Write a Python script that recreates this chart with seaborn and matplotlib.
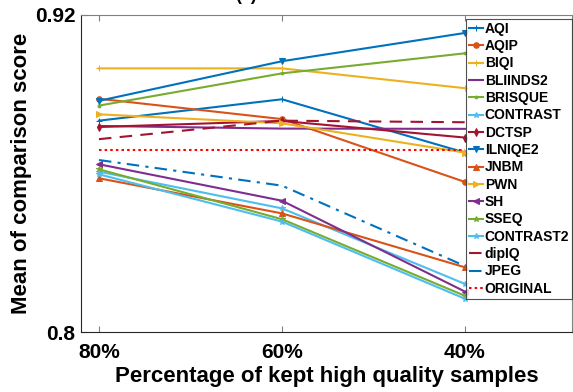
import numpy as np
import pandas as pd
import seaborn as sns
import matplotlib.pyplot as plt

percent = ["80%", "60%", "40%"]
methods = ["AQI", "AQIP", "BIQI", "BLIINDS2", "BRISQUE", "CONTRAST", "DCTSP", "ILNIQE2",
           "JNBM", "PWN", "SH", "SSEQ", "CONTRAST2", "dipIQ", "JPEG", "ORIGINAL"]

aqi = [0.8800, 0.8881, 0.8679]
aqip = [0.8883, 0.8806, 0.8568]
biqi = [0.8998, 0.8998, 0.8923]
bliinds2 = [0.8780, 0.8770, 0.8769]
brisque = [0.8857, 0.8979, 0.9055]
contrast = [0.8607, 0.8468, 0.8182]
dctsp = [0.8776, 0.8799, 0.8736]
ilniqe2 = [0.8875, 0.9025, 0.9132]
jnbm = [0.8582, 0.8449, 0.8245]
pwn = [0.8824, 0.8790, 0.8679]
sh = [0.8635, 0.8497, 0.8153]
sseq = [0.8616, 0.8427, 0.8137]
contrast2 = [0.8597, 0.8418, 0.8126]
dipiq = [0.8730, 0.8800, 0.8794]
jpeg = [0.8651, 0.8554, 0.8250]
original = [0.8690, 0.8690, 0.8690]

values = [aqi, aqip, biqi, bliinds2, brisque, contrast, dctsp, ilniqe2,
          jnbm, pwn, sh, sseq, contrast2, dipiq, jpeg, original]

blue, orange, yellow, purple = "#0072BD", "#D95319", "#EDB120", "#7E2F8E"
green, cyan, darkred = "#77AC30", "#4DBEEE", "#A2142F"
colors = [blue, orange, yellow, purple, green, cyan, darkred, blue,
          orange, yellow, purple, green, cyan, darkred, blue, "#FF0000"]
markers = ["+", "o", "+", "", ".", "*", "d", "v", "^", ">", "<", "*", "*", "", "", ""]
styles = ["-"] * 13 + [(0, (6, 4)), (0, (6, 3, 1.5, 3)), (0, (1.2, 1.5))]

df = pd.DataFrame({
    "pct": percent * len(methods),
    "score": np.concatenate(values),
    "method": np.repeat(methods, len(percent)),
})

plt.rcParams['font.family'] = ['Liberation Sans', 'DejaVu Sans']
plt.rcParams['font.weight'] = 'bold'

fig = plt.figure(figsize=(5.73, 3.92), dpi=100)
ax = fig.add_axes([81 / 573, 1 - 332 / 392, 491 / 573, 317 / 392])

for m, c, mk, ls in zip(methods, colors, markers, styles):
    sub = df[df["method"] == m]
    sns.lineplot(data=sub, x="pct", y="score", ax=ax, color=c, marker=mk if mk else None,
                 markersize=4, markeredgecolor=c, linestyle=ls, linewidth=1.5,
                 label=m, sort=False)

ax.set_xlim(-0.098, 2.585)
ax.set_ylim(0.8, 0.92)
ax.set_yticks([0.8, 0.92])
ax.set_yticklabels(["0.8", "0.92"])
ax.set_xticks([0, 1, 2])
ax.set_xticklabels(percent)
ax.tick_params(axis="both", labelsize=15, direction="in", length=4, color="#808080", pad=4)
ax.tick_params(axis="x", top=True, pad=8)
ax.set_xlabel("Percentage of kept high quality samples", fontsize=16, fontweight="bold", labelpad=3)
ax.set_ylabel("Mean of comparison score", fontsize=16, fontweight="bold", labelpad=2)
for s in ["top", "right"]:
    ax.spines[s].set_color("#808080")
for s in ["bottom", "left"]:
    ax.spines[s].set_color("#262626")
ax.grid(False)

leg = ax.legend(loc="upper left", bbox_to_anchor=(385 / 491, 1 - 4 / 317), fontsize=10,
                frameon=True, fancybox=False, edgecolor="#262626", handlelength=1.0,
                handletextpad=0.15, labelspacing=0.24, borderpad=0.2, borderaxespad=0)
leg.get_frame().set_linewidth(0.8)
for t in leg.get_texts():
    t.set_fontweight("bold")

fig.text(0.43, 1.012, "(a)", fontsize=13, va="center", ha="center")

fig.savefig("out.png", dpi=100)
